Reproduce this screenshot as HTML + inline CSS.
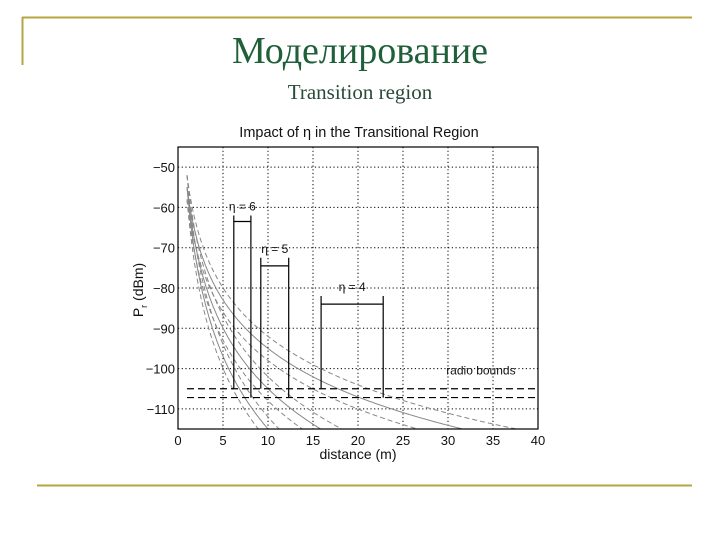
<!DOCTYPE html>
<html><head><meta charset="utf-8"><style>
html,body{margin:0;padding:0;background:#fff;width:720px;height:540px;overflow:hidden;position:relative}
svg{display:block;position:absolute;left:0;top:0}
</style>
<script>
const xTicks=[0,5,10,15,20,25,30,35,40];
const yTicks=[-50,-60,-70,-80,-90,-100,-110];
const etas=[6,5,4];
const offsets=[-3,0,3];
const p0=-55;
const boundsDb=[-105,-107.2];
const boxEta=[6,5,4];
const boxLeft=[6.2,9.2,15.9];
const boxRight=[8.1,12.3,22.8];
const boxTop=[-62,-72.5,-82];
const boxBar=[-63.5,-74.5,-84];
document.addEventListener('DOMContentLoaded',function(){
const X0=178,X1=538,Y0=147,Y1=429,XMIN=0,XMAX=40,YMIN=-115,YMAX=-45;
const sx=v=>X0+(v-XMIN)/(XMAX-XMIN)*(X1-X0);
const sy=v=>Y1-(v-YMIN)/(YMAX-YMIN)*(Y1-Y0);
const NS='http://www.w3.org/2000/svg';
const g=document.getElementById('plot');
function mk(t,a,p){const e=document.createElementNS(NS,t);for(const k in a)e.setAttribute(k,a[k]);(p||g).appendChild(e);return e;}
const clip=mk('clipPath',{id:'cp'});mk('rect',{x:X0,y:Y0,width:X1-X0,height:Y1-Y0},clip);
xTicks.forEach(t=>{
 if(t>XMIN&&t<XMAX){const l=mk('line',{x1:sx(t),x2:sx(t),y1:Y0,y2:Y1,stroke:'#000','stroke-width':1,'stroke-dasharray':'1.2,2.5'});
 
 }
 const tx=mk('text',{x:sx(t),y:Y1+16,'text-anchor':'middle','font-family':'Liberation Sans, sans-serif','font-size':13,fill:'#111'});tx.textContent=t;
 
 
});
yTicks.forEach(t=>{
 const l=mk('line',{x1:X0,x2:X1,y1:sy(t),y2:sy(t),stroke:'#000','stroke-width':1,'stroke-dasharray':'1.2,2.5'});
 
 
 const tx=mk('text',{x:X0-3,y:sy(t)+5,'text-anchor':'end','font-family':'Liberation Sans, sans-serif','font-size':13,fill:'#111'});tx.textContent='−'+Math.abs(t);
 
 
});
const cg=mk('g',{'clip-path':'url(#cp)'});


etas.forEach(n=>offsets.forEach(o=>{
 let d='';
 for(let k=0;k<=400;k++){
  const dist=1+k*(39/400);
  const v=p0+o-10*n*Math.log10(dist);
  d+=(k?'L':'M')+sx(dist).toFixed(1)+','+sy(v).toFixed(1);
  if(v<YMIN-1)break;
 }
 const p=mk('path',{d:d,fill:'none',stroke:'#888','stroke-width':1,'stroke-dasharray':o===0?'none':'5,3'},cg);
 
 
}));
boundsDb.forEach(b=>{
 const l=mk('line',{x1:sx(1),x2:X1,y1:sy(b),y2:sy(b),stroke:'#000','stroke-width':1.2,'stroke-dasharray':'7,4'});
 
 
});
const rb=mk('text',{x:sx(29.8),y:sy(-101.5),'font-family':'Liberation Sans, sans-serif','font-size':12,fill:'#111'});rb.textContent='radio bounds';


boxEta.forEach((n,i)=>{
 const a=sx(boxLeft[i]),b=sx(boxRight[i]);
 const p=mk('path',{d:`M${a},${sy(boundsDb[0])}V${sy(boxTop[i])}M${a},${sy(boxBar[i])}H${b}M${b},${sy(boxTop[i])}V${sy(boundsDb[1])}`,fill:'none',stroke:'#000','stroke-width':1.2});
 
 
 const t=mk('text',{x:(a+b)/2,y:sy(boxTop[i])-5,'text-anchor':'middle','font-family':'Liberation Sans, sans-serif','font-size':12,fill:'#111'});t.textContent='η = '+n;
 
 
});
const fr=mk('rect',{x:X0,y:Y0,width:X1-X0,height:Y1-Y0,fill:'none',stroke:'#000','stroke-width':1.2});


});
</script>
</head><body>
<svg width="720" height="540" viewBox="0 0 720 540" xmlns="http://www.w3.org/2000/svg">
<line x1="22" y1="17.5" x2="692" y2="17.5" stroke="#b5a642" stroke-width="2"/>
<line x1="22.5" y1="17" x2="22.5" y2="65" stroke="#b5a642" stroke-width="2"/>
<line x1="37" y1="485.5" x2="692" y2="485.5" stroke="#b5a642" stroke-width="2"/>
<text x="360" y="63" text-anchor="middle" font-family="Liberation Serif, serif" font-size="38" fill="#1f5f3a">Моделирование</text>
<text x="360" y="99" text-anchor="middle" font-family="Liberation Serif, serif" font-size="21" fill="#2a4a3a">Transition region</text>
<text x="359" y="137" text-anchor="middle" font-family="Liberation Sans, sans-serif" font-size="14.5" fill="#111">Impact of η in the Transitional Region</text>
<g id="plot"></g>
<text x="358" y="459" text-anchor="middle" font-family="Liberation Sans, sans-serif" font-size="14" fill="#111">distance (m)</text>
<text transform="translate(143,290) rotate(-90)" text-anchor="middle" font-family="Liberation Sans, sans-serif" font-size="14" fill="#111">P<tspan font-size="9" dy="4">r</tspan><tspan dy="-4"> (dBm)</tspan></text>
</svg>
</body></html>
